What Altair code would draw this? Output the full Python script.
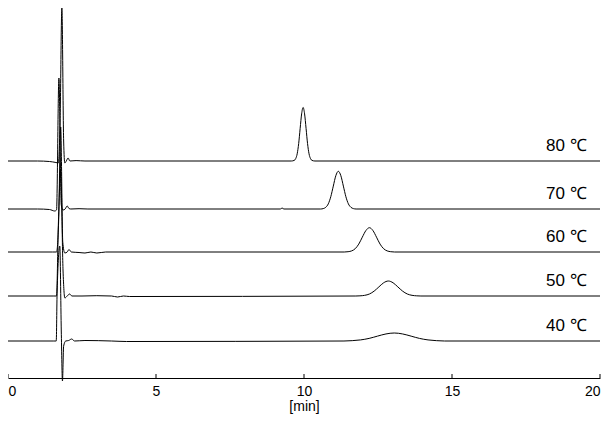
import altair as alt
import pandas as pd

# Trace labels and vertical offsets (baseline level of each stacked trace)
trace_labels = ["80 ℃", "70 ℃", "60 ℃", "50 ℃", "40 ℃"]
trace_offsets = [217, 169, 126, 82, 37]

# Retention time [min] and signal (relative to each trace's baseline)
t_80 = [0.0, 1.0, 1.4, 1.62, 1.70, 1.76, 1.82, 1.88, 1.92, 1.97, 2.03, 2.09, 2.3, 2.6,
        9.57, 9.67, 9.72, 9.77, 9.82, 9.87, 9.92, 9.97, 10.02, 10.07, 10.12, 10.17, 10.22, 10.27, 10.37, 20.0]
v_80 = [0.0, 0.0, -0.5, -1.5, -2.0, 40, 153, 20, -2.0, 0.0, 3.0, 0.0, 0.4, 0.0,
        0.0, 0.6, 2.4, 7.2, 17.4, 32.6, 47.1, 53.5, 47.1, 32.6, 17.4, 7.2, 2.4, 0.6, 0.0, 0.0]

t_70 = [0.0, 1.0, 1.4, 1.58, 1.64, 1.72, 1.80, 1.86, 1.93, 2.0, 2.06, 2.12, 2.4, 2.7, 9.2, 9.26, 9.32,
        10.56, 10.65, 10.735, 10.82, 10.905, 10.99, 11.075, 11.16, 11.245, 11.33, 11.415, 11.5, 11.585, 11.67, 11.76, 20.0]
v_70 = [0.0, 0.0, -0.5, -2.0, -1.0, 131, 4, -1.0, 0.0, 3.0, 0.5, 0.0, 0.3, 0.0, 0.0, 1.0, 0.0,
        0.0, 0.4, 1.7, 5.1, 12.3, 22.9, 33.3, 37.7, 33.3, 22.9, 12.3, 5.1, 1.7, 0.4, 0.0, 0.0]

t_60 = [0.0, 1.5, 1.64, 1.71, 1.78, 1.85, 1.92, 2.0, 2.06, 2.14, 2.4, 2.6, 2.8, 3.0, 3.3,
        11.36, 11.49, 11.61, 11.73, 11.85, 11.97, 12.09, 12.21, 12.33, 12.45, 12.57, 12.69, 12.81, 12.93, 13.06, 20.0]
v_60 = [0.0, 0.0, 0.0, 30, 125, 10, -1.0, 0.0, 2.5, 0.0, -0.5, -1.0, 0.0, -1.0, 0.0,
        0.0, 0.3, 1.1, 3.3, 7.9, 14.8, 21.4, 24.3, 21.4, 14.8, 7.9, 3.3, 1.1, 0.3, 0.0, 0.0]

t_50 = [0.0, 1.55, 1.64, 1.70, 1.78, 1.86, 1.92, 2.0, 2.08, 2.16, 2.5, 3.0, 3.5, 3.7, 3.9, 4.1,
        11.75, 11.89, 12.05, 12.21, 12.37, 12.53, 12.69, 12.85, 13.01, 13.17, 13.33, 13.49, 13.65, 13.81, 13.95, 20.0]
v_50 = [0.0, 0.0, 0.0, 70, 125, 25, -2.0, 0.0, 2.0, 0.0, 0.0, 0.3, 0.0, -1.0, 0.0, -0.5,
        0.0, 0.17, 0.66, 2.0, 4.9, 9.1, 13.2, 15.0, 13.2, 9.1, 4.9, 2.0, 0.66, 0.17, 0.0, 0.0]

t_40 = [0.0, 1.55, 1.63, 1.66, 1.75, 1.80, 1.84, 1.88, 1.95, 2.05, 2.15, 2.25, 2.6, 3.5, 4.0,
        11.35, 11.63, 11.91, 12.2, 12.48, 12.77, 13.05, 13.33, 13.62, 13.9, 14.19, 14.47, 14.75, 20.0]
v_40 = [0.0, 0.0, 0.0, 50, 95, 10, -40, -5, 0.0, 0.5, 2.0, 0.0, 0.5, 0.0, -0.5,
        0.0, 0.35, 1.08, 2.6, 4.85, 7.06, 8.0, 7.06, 4.85, 2.6, 1.08, 0.35, 0.0, 0.0]

# Axis tick values
tick_values = [0, 5, 10, 15, 20]

series = [(t_80, v_80), (t_70, v_70), (t_60, v_60), (t_50, v_50), (t_40, v_40)]
rows = []
for i, (ts, vs) in enumerate(series):
    for j, (t, v) in enumerate(zip(ts, vs)):
        rows.append({"t": t, "v": trace_offsets[i] + v, "trace": trace_labels[i], "order": j})
df = pd.DataFrame(rows)
labels_df = pd.DataFrame({"label": trace_labels, "offset": trace_offsets})
ticks_df = pd.DataFrame({"tick": tick_values})

FONT = "Liberation Sans"

x_scale = alt.Scale(domain=[0, 20], nice=False, zero=False)
y_scale = alt.Scale(domain=[0, 370], nice=False, zero=False)

lines = alt.Chart(df).mark_line(color="black", strokeWidth=1, interpolate="monotone").encode(
    x=alt.X("t:Q", scale=x_scale,
            axis=alt.Axis(values=tick_values, title="[min]", grid=False, ticks=False,
                          domainColor="black", domainWidth=1, labelFlush=True,
                          labelFont=FONT, labelFontSize=14, labelColor="black", labelPadding=6,
                          titleFont=FONT, titleFontSize=14, titleFontWeight="normal",
                          titleColor="black", titlePadding=1, format="d")),
    y=alt.Y("v:Q", scale=y_scale, axis=None),
    detail="trace:N",
    order="order:Q",
)

ticks = alt.Chart(ticks_df).mark_rule(color="black", strokeWidth=1).encode(
    x=alt.X("tick:Q", scale=x_scale),
    y=alt.value(370),
    y2=alt.value(366),
)

texts = alt.Chart(labels_df).mark_text(
    align="right", baseline="alphabetic", font=FONT, fontSize=17, color="black", dy=-10
).encode(
    x=alt.datum(19.55),
    y=alt.Y("offset:Q", scale=y_scale),
    text="label:N",
)

chart = alt.layer(lines, ticks, texts).properties(
    width=592, height=370,
    autosize=alt.AutoSizeParams(type="none"),
    padding={"left": 0, "top": 0, "right": 2, "bottom": 37},
).configure_view(stroke=None)

chart.save("out.html", embed_options={"renderer": "svg", "actions": False})
